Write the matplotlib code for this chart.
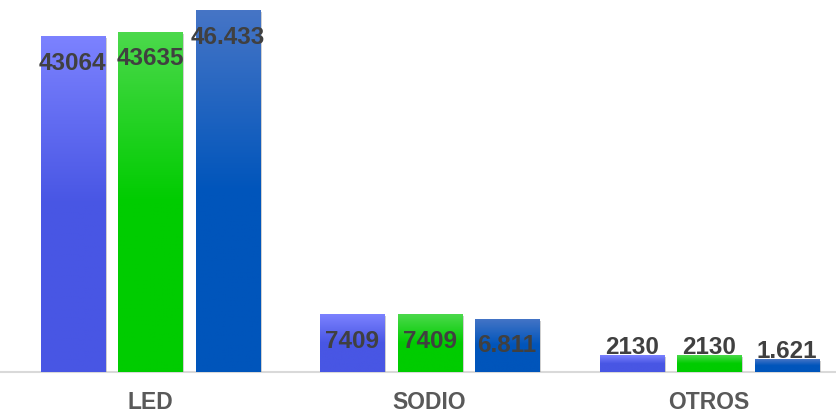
import numpy as np
import matplotlib.pyplot as plt
from matplotlib import patheffects as pe
from matplotlib.colors import LinearSegmentedColormap

CATEGORIES = ["LED", "SODIO", "OTROS"]
SERIES_VALUES = [
    [43064, 7409, 2130],
    [43635, 7409, 2130],
    [46433, 6811, 1621],
]
SERIES_LABELS = [
    ["43064", "7409", "2130"],
    ["43635", "7409", "2130"],
    ["46.433", "6.811", "1.621"],
]
# (top colour, bottom colour) for each series gradient
GRADIENTS = [
    ("#7c82ff", "#4856e4"),
    ("#4cd94c", "#00cc00"),
    ("#4675c6", "#0055bb"),
]

plt.rcParams["font.family"] = ["Liberation Sans", "DejaVu Sans"]

fig = plt.figure(figsize=(8.36, 4.13), dpi=100)
ax = fig.add_axes([0, 41 / 413, 1, 372 / 413])

x = np.arange(len(CATEGORIES))
width = 0.229
step = 0.277
ymax = max(max(v) for v in SERIES_VALUES) * 372 / 362

for i, (vals, labels, (c_top, c_bot)) in enumerate(
    zip(SERIES_VALUES, SERIES_LABELS, GRADIENTS)
):
    pos = x + (i - 1) * step
    bars = ax.bar(
        pos,
        vals,
        width=width,
        color=c_bot,
        zorder=2,
        path_effects=[
            pe.SimplePatchShadow(offset=(1.5, -1.5), shadow_rgbFace="#888888", alpha=0.4),
            pe.Normal(),
        ],
    )
    cmap = LinearSegmentedColormap.from_list(f"g{i}", [c_bot, c_bot, c_top])
    grad = np.linspace(0, 1, 256).reshape(-1, 1)
    for bar, label in zip(bars, labels):
        x0, h = bar.get_x(), bar.get_height()
        im = ax.imshow(
            grad,
            cmap=cmap,
            extent=(x0, x0 + width, 0, h),
            origin="lower",
            aspect="auto",
            zorder=3,
        )
        im.set_clip_path(bar)
        cx = x0 + width / 2
        if h > 5000:
            ax.annotate(
                label, (cx, h), xytext=(0, -19.5), textcoords="offset points",
                ha="center", va="center", fontsize=17.5, fontweight="bold",
                color="#404040", zorder=5,
            )
        else:
            ax.annotate(
                label, (cx, h), xytext=(0, 1), textcoords="offset points",
                ha="center", va="baseline", fontsize=17.5, fontweight="bold",
                color="#404040", zorder=5,
            )

ax.set_xlim(-0.537, 2.454)
ax.set_ylim(0, ymax)
ax.set_xticks(x)
ax.set_xticklabels(CATEGORIES, fontsize=16.5, fontweight="bold", color="#595959")
ax.tick_params(axis="x", length=0, pad=14)
ax.set_yticks([])
for side in ["left", "right", "top"]:
    ax.spines[side].set_visible(False)
ax.spines["bottom"].set_color("#d9d9d9")
ax.spines["bottom"].set_linewidth(1.5)
ax.spines["bottom"].set_zorder(1)

fig.savefig("out.png", dpi=100)
